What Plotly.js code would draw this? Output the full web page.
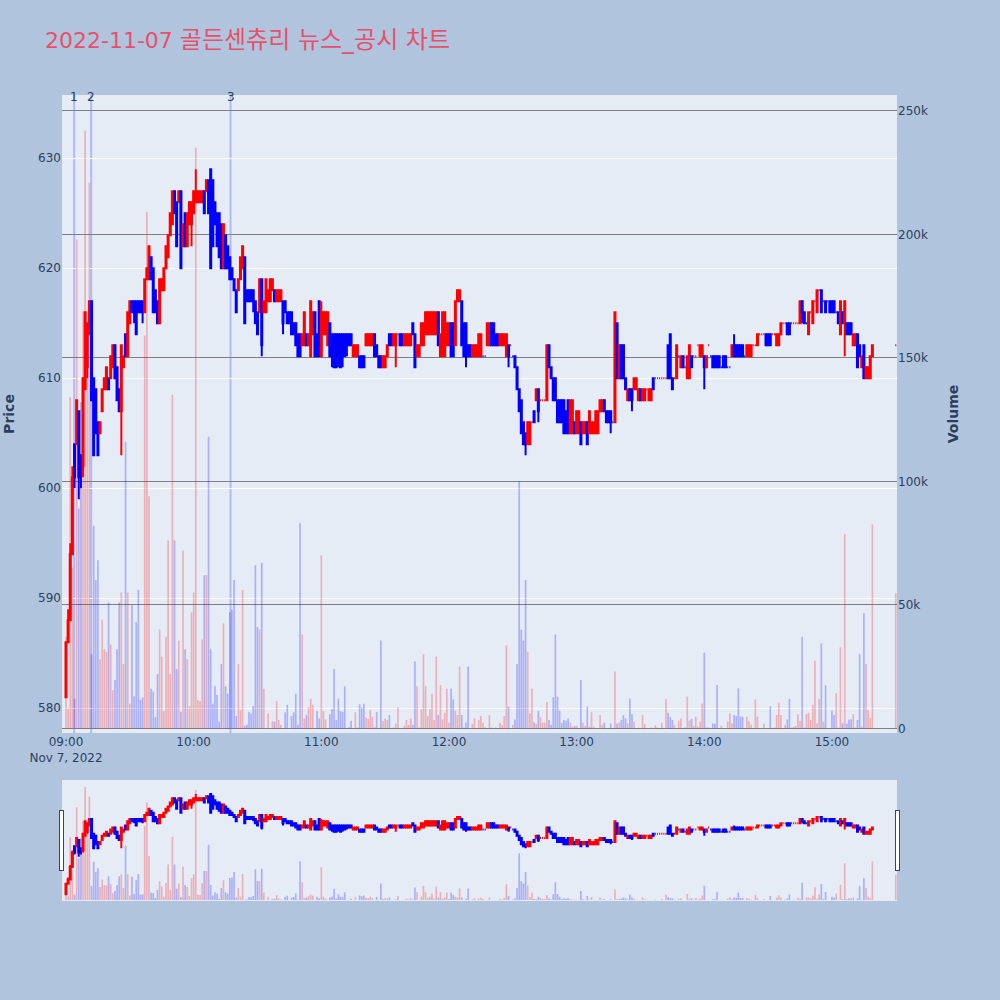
<!DOCTYPE html>
<html>
<head>
<meta charset="utf-8">
<script src="https://cdn.plot.ly/plotly-3.0.1.min.js"></script>
<style>html,body{margin:0;padding:0;background:#b0c4de;}</style>
</head>
<body>
<div id="chart" style="width:1000px;height:1000px;"></div>
<script>
// ---- data (1-minute candles, 09:00 .. 15:19, plus closing auction 15:30) ----
const tradeDate = '2022-11-07';
const sessionStart = '09:00';
const closingAuctionTime = '15:30';

const openP = [
581,586,588,594,604,604,607,603,602,609,
611,614,617,610,609,606,605,607,609,609,
610,610,611,613,611,609,607,611,614,612,
615,617,617,617,617,617,617,616,619,619,
621,620,618,617,615,618,618,620,621,623,
624,627,626,626,627,622,625,622,624,624,
625,626,626,626,626,627,627,628,629,628,
626,625,625,624,620,623,622,621,620,619,
618,618,619,620,621,618,618,618,618,617,
616,616,619,616,616,617,617,618,618,617,
617,617,617,617,616,616,616,615,615,614,
614,613,613,614,613,612,614,616,614,617,
612,614,614,613,615,614,614,614,614,614,
614,614,614,614,614,612,612,612,612,612,
612,613,613,613,613,614,613,612,612,611,
611,612,614,614,613,613,614,614,614,613,
613,613,613,615,614,612,612,613,613,614,
614,614,614,614,614,616,612,612,612,613,
613,615,615,613,617,617,617,615,615,613,
613,612,612,612,612,612,612,612,613,613,
615,615,614,614,613,613,613,612,613,613,
612,612,611,609,608,606,605,604,604,606,
607,608,609,608,608,608,608,613,611,610,
610,608,608,608,608,607,608,605,605,606,
605,605,606,605,605,606,605,605,605,605,
605,607,607,608,607,607,607,606,606,615,
610,613,613,610,608,609,609,609,609,608,
609,608,608,609,608,608,610,610,610,610,
610,610,610,613,614,610,610,610,612,611,
612,611,610,610,612,612,612,613,612,612,
612,611,613,612,612,612,612,612,611,612,
612,611,611,612,613,613,613,613,613,612,
612,612,612,613,613,613,614,614,614,614,
614,614,614,614,613,613,614,615,615,615,
615,615,615,615,615,615,617,616,615,614,
616,615,617,616,618,618,617,617,617,617,
617,617,616,616,614,616,615,615,615,615,
613,613,614,613,611,613,610,610,610,612,
613];

const highP = [
586,589,595,602,604,608,607,603,610,616,
615,617,617,610,609,606,606,609,610,611,
610,612,613,613,611,609,613,612,614,616,
617,617,617,617,617,617,617,619,620,622,
621,620,618,617,619,619,620,622,623,625,
627,627,626,627,627,624,625,625,626,626,
627,629,627,627,627,627,628,628,629,628,
626,625,625,624,624,623,622,621,620,619,
618,619,621,622,621,618,618,618,618,617,
616,619,619,617,619,618,619,619,618,618,
618,618,617,617,616,616,616,615,615,614,
614,614,616,614,614,617,616,616,614,617,
617,616,616,616,615,614,614,614,614,614,
614,614,614,614,614,613,613,613,612,612,
612,614,614,614,614,614,613,612,612,612,
612,613,614,614,614,614,614,614,614,614,
614,614,614,615,614,613,613,615,615,616,
616,616,616,616,616,616,614,616,616,615,
615,615,615,617,618,618,617,615,615,613,
613,613,613,613,614,614,612,612,615,615,
615,615,614,614,614,614,614,614,613,613,
612,612,611,609,608,606,605,606,606,606,
607,609,609,608,608,608,613,613,611,610,
610,608,608,608,608,607,608,608,608,606,
607,607,606,606,606,606,607,606,606,607,
607,608,608,608,607,607,607,606,616,615,
613,613,613,610,609,609,609,610,610,609,
609,609,609,609,609,609,610,610,610,610,
610,610,610,613,614,610,610,613,612,612,
612,611,612,613,612,612,612,613,613,613,
612,612,613,612,612,612,612,612,611,612,
612,611,611,613,614,613,613,613,613,612,
613,613,613,613,613,614,614,614,614,614,
614,614,614,614,614,614,615,615,615,615,
615,615,615,615,615,617,617,616,615,616,
616,617,617,618,618,618,617,617,617,617,
617,617,616,616,617,616,617,615,615,615,
614,614,614,613,612,613,611,611,612,613,
613];

const lowP = [
581,586,588,594,600,604,599,600,601,609,
610,614,608,603,605,603,605,607,609,609,
609,610,611,610,608,607,603,611,612,612,
615,616,615,614,616,616,615,616,619,619,
619,616,616,615,615,618,618,620,621,623,
624,625,622,626,620,622,622,622,624,622,
625,626,626,626,626,625,627,625,620,622,
624,622,621,620,620,620,620,619,619,618,
616,618,619,620,615,617,617,617,616,615,
614,616,612,616,616,617,617,618,617,617,
617,617,614,616,615,615,614,614,613,612,
612,613,613,613,613,612,614,612,612,612,
612,614,614,613,612,611,611,611,611,611,
611,612,612,613,613,612,612,612,611,611,
611,613,613,613,613,612,612,611,611,611,
611,612,613,613,613,611,614,613,613,613,
613,613,613,614,611,612,612,613,613,614,
614,614,614,614,614,613,612,612,612,613,
613,612,612,613,617,617,613,612,611,612,
612,612,612,612,612,612,612,612,613,613,
613,613,613,613,613,613,613,612,611,613,
612,611,609,607,605,604,603,604,604,606,
606,608,606,608,608,608,608,611,610,608,
608,606,606,606,605,605,605,605,605,605,
605,605,604,605,605,604,605,605,605,605,
605,607,607,607,606,606,605,606,606,610,
610,610,610,609,608,608,607,609,609,608,
608,608,608,609,608,608,609,610,610,610,
610,610,610,610,610,609,610,610,612,611,
611,611,610,610,611,612,612,613,612,612,
609,611,613,612,611,611,611,611,611,611,
611,611,611,612,612,612,612,612,612,612,
612,612,612,613,613,613,614,614,614,613,
613,613,614,614,613,613,614,615,615,614,
614,615,615,615,615,615,615,615,615,614,
616,615,617,616,618,616,617,616,617,616,
616,616,616,615,614,615,612,614,614,614,
613,613,611,612,611,610,610,610,610,612,
613];

const closeP = [
586,588,594,601,601,608,601,602,610,616,
615,617,608,603,605,603,606,609,610,611,
609,612,613,610,608,607,613,612,612,616,
617,616,616,614,616,616,616,619,620,622,
619,616,616,615,619,619,620,622,623,625,
627,625,622,627,620,624,622,625,626,626,
627,627,627,627,627,625,628,625,620,622,
624,622,621,620,624,620,620,619,619,618,
616,619,621,622,615,617,617,617,617,615,
614,619,613,617,619,618,619,619,617,618,
618,618,615,616,615,615,614,614,613,612,
612,614,616,613,614,617,616,612,612,612,
616,616,616,616,612,612,611,611,612,611,
612,612,613,613,613,613,613,613,611,611,
611,614,614,614,614,612,612,611,611,612,
612,613,613,613,614,614,614,613,613,614,
614,614,614,614,611,613,613,615,615,616,
616,616,616,616,616,613,614,616,616,615,
615,612,612,617,618,618,613,612,612,612,
612,613,613,613,614,614,612,612,615,615,
613,613,613,613,614,614,614,614,612,613,
612,611,609,607,605,604,604,606,606,606,
606,609,607,608,608,608,613,611,610,608,
608,606,606,606,605,605,605,608,608,605,
607,607,604,606,606,604,607,606,606,607,
607,608,608,607,606,606,606,606,616,610,
613,610,610,609,609,608,608,610,610,609,
608,609,609,609,609,609,609,610,610,610,
610,610,610,610,610,609,610,613,612,612,
611,611,612,613,611,612,612,613,613,613,
611,612,613,612,611,611,611,611,611,611,
611,611,611,613,612,612,612,612,612,612,
613,613,613,613,613,614,614,614,614,613,
613,613,614,614,614,614,615,615,615,614,
614,615,615,615,615,617,616,615,615,616,
616,617,617,618,618,616,617,616,617,616,
616,616,616,615,617,615,617,614,614,614,
614,614,611,612,612,610,611,611,612,613,
613];

// volume in thousands of shares
const volumeK = [
37,8,134,65,12,198,89,132,169,242,
150,221,30,82,60,68,28,44,32,31,
51,34,15.5,19.6,32,51,55,26,116,55,
10,50,13,43,56,11.5,12.5,159,209,94,
16,15,4.5,22,40,29,7,37,76,22,
135,76,24,35.5,6.7,72,32,28,9,47,
55,235,11.5,11,36,62,62,118,32,10,
17,13.5,2.7,26,42.5,17,14,47,48,60,
5,26,7.4,56,1,1.4,6.7,6,9,66,
41,40,67,16,0,6,0,3,2.7,11,
3.4,1.4,0,6.5,9.5,0,5,6.5,14,1.4,
83,38,4,5.4,8.5,12,9.5,0,7,4,
70,7,3.6,0,5.7,7.8,24,3.4,12,7,
6.6,17,0,0.4,3.1,0,6.5,0.4,9.7,8.4,
9.9,4.5,3.8,7.4,4.7,0.4,6.6,0,35.5,3,
4,3.4,5.4,0,0.4,1.8,8.5,0,0,1,
3.4,1.4,3.9,1.4,27,17,0.3,7.7,30,17,
5,7.7,14,3.4,29,5.4,17.4,3.6,6.3,16,
2.4,16,11.7,7.2,5.4,25,5.4,0.3,2.4,25,
0,1.8,4,0,3.4,5,2.3,0.4,0,5.4,
0.3,0,0.3,0,2.3,1.4,5,33.6,8.8,0,
1.4,3.6,26,100,40,35.5,60,31,6,16,
2.4,1.8,7,4.5,2.3,2.3,10.7,3.4,1.4,12.6,
38,12.8,7.2,2.2,3.4,3.1,4,2.3,0.7,1,
1,0,19.6,2.3,1,8.8,0.7,6.5,0.7,0,
0,5.4,1.4,2.3,0,0,2,0,23,1.8,
2.3,3.4,5.4,4,2,12,5.8,2.7,0,0.3,
0,5.4,1.8,0,0,0.3,0,1.2,0.4,0,
2.2,0,12,6.3,4.5,3.4,1.4,0,3.1,4,
0,0.4,12.8,3.1,3.8,1,4.7,0.7,2.7,10,
30.6,0.4,0.4,0,2,1.8,17.5,0,1,0,
0,2.7,6,2,5.4,5,16.2,4.7,4.7,0,
4.7,3,1.4,0,11.7,4.7,0,0,1.8,0,
0,9,0,0.3,5.4,10.4,5.4,0,1.4,3.6,
11.9,0.4,0.7,1,5.7,3.1,37,0.3,5.8,6.3,
3.4,9.5,27.4,2,11.9,34.4,2.7,17.4,0,0,
7.2,5.4,14.2,0.3,32.8,2,78.6,1.8,3.6,3.6,
5.7,0.3,3.4,30,0.7,46.6,26,7.4,4.3,82.6,
54.7];

// news / disclosure markers
const newsTimes = ['2022-11-07 09:03:50', '2022-11-07 09:11:50', '2022-11-07 10:17:20'];
const newsLabels = ['1', '2', '3'];

// title parts
const titleDate = '2022-11-07';
const titleName = '골든센츄리 뉴스_공시 차트';

// ---- build timestamps (one per minute of the continuous session, then the closing auction) ----
function pad(n){ return (n < 10 ? '0' : '') + n; }
const [sh, sm] = sessionStart.split(':').map(Number);
const times = openP.map((_, i) => {
  if (i === openP.length - 1) return tradeDate + ' ' + closingAuctionTime;
  const t = sh * 60 + sm + i;
  return tradeDate + ' ' + pad(Math.floor(t / 60)) + ':' + pad(t % 60);
});
const volume = volumeK.map(v => v * 1000);
const volColors = closeP.map((c, i) => c >= openP[i] ? 'rgba(255,0,0,0.25)' : 'rgba(0,0,255,0.25)');

const xRange = ['2022-11-07 08:58:07', '2022-11-07 15:30:34'];

const volumeTrace = {
  type: 'bar', x: times, y: volume, yaxis: 'y',
  marker: { color: volColors, line: { width: 0 } },
  hoverinfo: 'skip', showlegend: false
};
const candleTrace = {
  type: 'candlestick', x: times, open: openP, high: highP, low: lowP, close: closeP,
  yaxis: 'y2',
  increasing: { line: { color: 'red', width: 2 }, fillcolor: 'red' },
  decreasing: { line: { color: 'blue', width: 2 }, fillcolor: 'blue' },
  showlegend: false
};

const shapes = newsTimes.map(t => ({
  type: 'line', xref: 'x', yref: 'paper', x0: t, x1: t, y0: 0, y1: 1,
  line: { color: 'rgba(0,0,255,0.22)', width: 2 }, layer: 'below'
}));
const annotations = newsTimes.map((t, i) => ({
  x: t, xref: 'x', y: 1, yref: 'paper', yanchor: 'middle', yshift: -2,
  text: newsLabels[i], showarrow: false, font: { size: 12, color: '#2a3f5f' }
}));

const layout = {
  width: 1000, height: 1000,
  paper_bgcolor: '#b0c4de', plot_bgcolor: '#e5ecf6',
  margin: { l: 62, r: 103, t: 95, b: 100 },
  font: { family: 'Verdana, "DejaVu Sans", "Noto Sans CJK KR", sans-serif', color: '#2a3f5f', size: 12 },
  title: {
    text: titleDate + ' <span style="font-size:24px">' + titleName + '</span>',
    x: 0.045, xanchor: 'left', xref: 'container',
    y: 0.96, yanchor: 'middle', yref: 'container',
    font: { size: 22, color: '#e8506a' }
  },
  showlegend: false,
  bargap: 0.2,
  xaxis: {
    type: 'date', range: xRange, autorange: false,
    showgrid: false, zeroline: false,
    rangeslider: { visible: true, thickness: 0.15, bgcolor: '#e5ecf6', range: xRange }
  },
  yaxis: {
    side: 'right', range: [-1900, 256400], autorange: false,
    gridcolor: 'gray', gridwidth: 1, zeroline: false,
    title: { text: '<b>Volume</b>', font: { size: 14 }, standoff: 21 }
  },
  yaxis2: {
    overlaying: 'y', side: 'left', range: [577.75, 635.75], autorange: false,
    gridcolor: 'white', gridwidth: 1, zeroline: false, showgrid: true,
    title: { text: '<b>Price</b>', font: { size: 14 }, standoff: 20 }
  },
  shapes: shapes,
  annotations: annotations
};

Plotly.newPlot('chart', [volumeTrace, candleTrace], layout, { displayModeBar: false, staticPlot: true });
</script>
</body>
</html>
